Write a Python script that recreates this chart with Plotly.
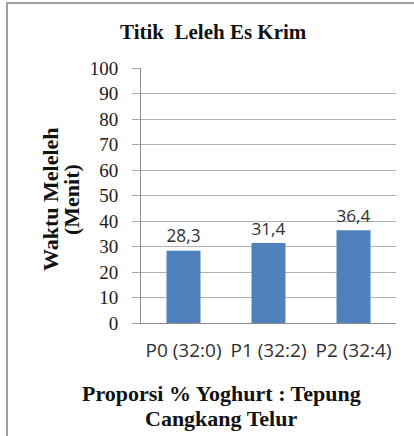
import plotly.graph_objects as go

categories = ["P0 (32:0)", "P1 (32:2)", "P2 (32:4)"]
values = [28.3, 31.4, 36.4]
y_ticks = [0, 10, 20, 30, 40, 50, 60, 70, 80, 90, 100]

labels = [f"{v:.1f}".replace(".", ",") for v in values]

W, H = 414, 436
L, R, T, B = 141, 18, 68, 113
pw, ph = W - L - R, H - T - B

def px(x):
    return (x - L) / pw

def py(y):
    return (H - B - y) / ph

fig = go.Figure(go.Bar(
    x=categories, y=values,
    marker=dict(color="#4F81BD", line=dict(width=0)),
    text=labels, textposition="outside", cliponaxis=False,
    textfont=dict(family="Open Sans", size=19, color="#303030"),
))

fig.update_layout(
    width=W, height=H,
    margin=dict(l=L, r=R, t=T, b=B),
    paper_bgcolor="white", plot_bgcolor="white",
    bargap=0.6, showlegend=False,
    xaxis=dict(showline=True, linecolor="#8c8c8c", linewidth=1,
               ticks="", showgrid=False,
               tickfont=dict(family="Open Sans", size=19, color="#303030"),
               ticklabelstandoff=10),
    yaxis=dict(range=[0, 100], tickvals=y_ticks, showline=True,
               linecolor="#8c8c8c", linewidth=1,
               ticks="outside", ticklen=8, tickcolor="#a6a6a6",
               showgrid=True, gridcolor="#b0b0b0", gridwidth=1,
               zeroline=False,
               tickfont=dict(family="Liberation Serif", size=19, color="#202020"),
               ticklabelstandoff=10),
    font=dict(family="Liberation Serif"),
)

ann = [
    dict(text="<b>Titik  Leleh Es Krim</b>", x=px(213.5), y=py(32), size=21, angle=0),
    dict(text="<b>Proporsi % Yoghurt : Tepung</b>", x=px(221), y=py(393), size=22, angle=0),
    dict(text="<b>Cangkang Telur</b>", x=px(221), y=py(418), size=22, angle=0),
    dict(text="<b>Waktu Meleleh</b>", x=px(50), y=py(199), size=22, angle=-90),
    dict(text="<b>(Menit)</b>", x=px(72), y=py(200), size=22, angle=-90),
]
for a in ann:
    fig.add_annotation(text=a["text"], x=a["x"], y=a["y"], xref="paper", yref="paper",
                       xanchor="center", yanchor="middle", showarrow=False,
                       textangle=a["angle"],
                       font=dict(family="Liberation Serif", size=a["size"], color="#111111"))

fig.add_shape(type="path", xref="paper", yref="paper",
              path=f"M {px(7)} {py(440)} L {px(7)} {py(3)} L {px(420)} {py(3)}",
              line=dict(color="#a0a0a0", width=2))

fig.write_html("out.html", config={"displayModeBar": False},
               post_script="document.body.style.margin='0';document.body.style.overflow='hidden';")
